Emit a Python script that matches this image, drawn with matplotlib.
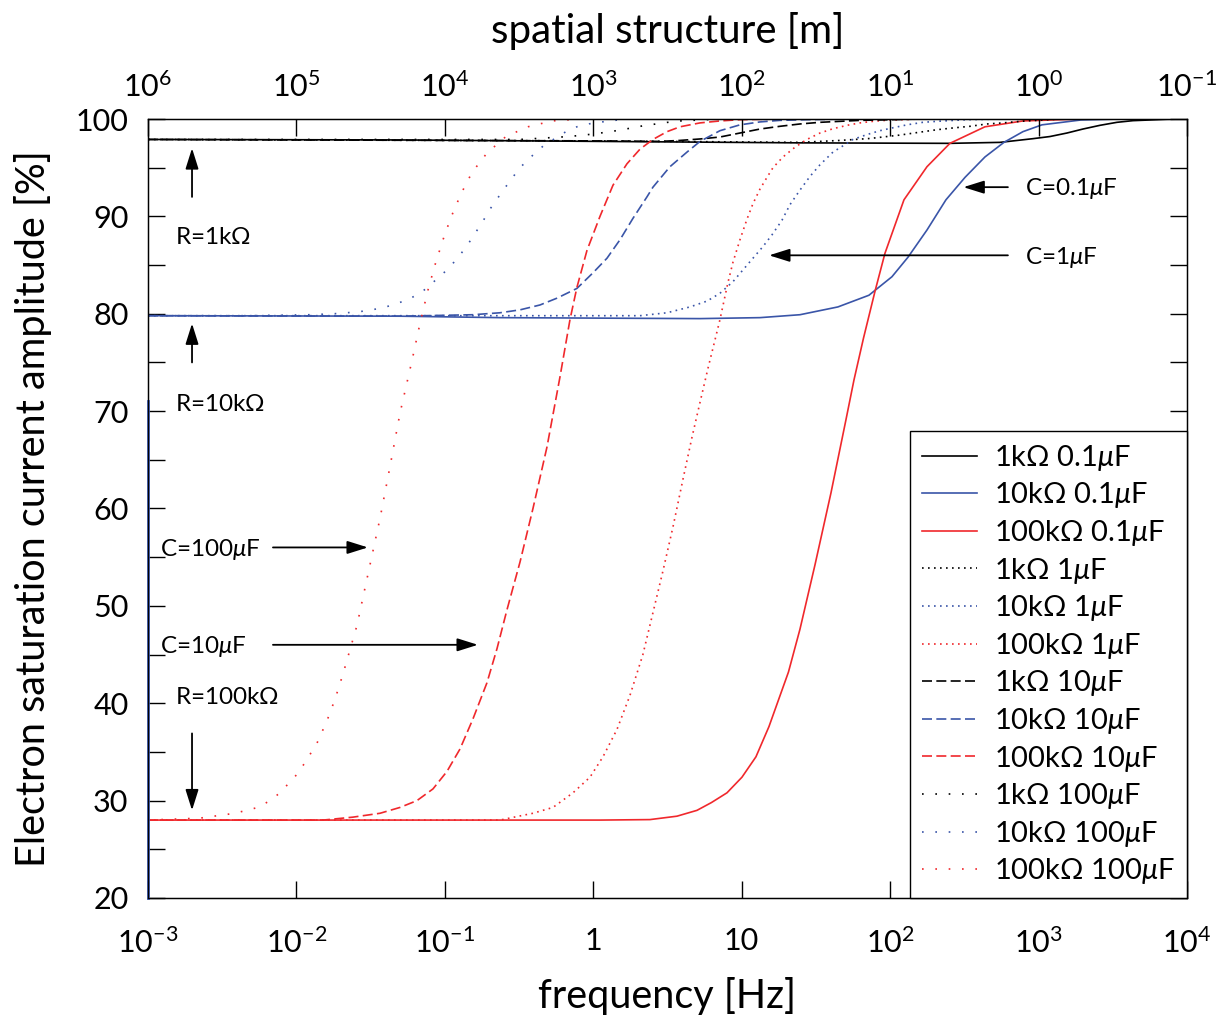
import numpy as np
import matplotlib
matplotlib.use("Agg")
import matplotlib.pyplot as plt
from matplotlib.ticker import FixedLocator, FixedFormatter, NullLocator

plt.rcParams['font.family'] = ['Lato', 'DejaVu Sans']
plt.rcParams['mathtext.fontset'] = 'custom'
plt.rcParams['mathtext.rm'] = 'Lato'
plt.rcParams['mathtext.it'] = 'Lato:italic'
plt.rcParams['mathtext.sf'] = 'Lato'
plt.rcParams['mathtext.fallback'] = 'stixsans'

# ---- data: frequency [Hz] and amplitude [%] ----
# 1 kOhm
f_1k_01 = [0.001, 0.0499, 1.11, 24.7, 253, 549.5, 917, 1194, 1554, 1992, 2593, 3376, 4327, 7330, 10000]
a_1k_01 = [97.9, 97.85, 97.7, 97.55, 97.5, 97.6, 97.98, 98.2, 98.56, 98.97, 99.35, 99.66, 99.83, 99.97, 100.0]

f_1k_1 = [0.001, 1.11, 24.7, 45.9, 73.1, 116.5, 159, 206.8, 265, 345, 449, 575.6, 750, 1394, 10000]
a_1k_1 = [97.9, 97.75, 97.6, 97.8, 98.0, 98.35, 98.65, 98.9, 99.08, 99.25, 99.49, 99.6, 99.76, 100.0, 100.0]

f_1k_10 = [0.001, 1.11, 2.815, 3.84, 5.24, 7.14, 9.74, 13.28, 18.1, 24.7, 33.7, 45.9, 62.7, 85.4, 159, 10000]
a_1k_10 = [97.9, 97.75, 97.7, 97.8, 97.95, 98.15, 98.56, 98.97, 99.25, 99.49, 99.66, 99.76, 99.86, 99.9, 100.0, 100.0]

f_1k_100 = [0.001, 0.321, 0.473, 0.686, 1.011, 1.49, 2.16, 3.14, 3.84, 7.14, 10000]
a_1k_100 = [97.9, 97.9, 98.05, 98.2, 98.46, 98.84, 99.3, 99.65, 99.8, 100.0, 100.0]

# 10 kOhm
f_10k_01 = [0.001, 0.0499, 0.2351, 5.24, 13.28, 24.7, 44.5, 72.0, 102.9, 131.9, 177.2, 237.8,
            319.4, 435.5, 584.8, 785.2, 1054, 1932, 3538, 10000]
a_10k_01 = [79.8, 79.75, 79.6, 79.5, 79.6, 79.9, 80.7, 81.9, 83.8, 85.8, 88.6, 91.7,
            94.0, 96.1, 97.6, 98.7, 99.4, 99.9, 100.0, 100.0]

f_10k_1 = [0.001, 2.064, 3.14, 4.483, 5.84, 7.14, 8.74, 10.2, 11.91, 13.91, 16.0, 18.68, 21.15, 24.7,
           28.84, 33.7, 41.2, 51.2, 56.2, 69.8, 85.4, 104.5, 129.9, 166.4, 206.8, 329.5, 549.5, 10000]
a_10k_1 = [79.8, 79.8, 80.1, 80.7, 81.3, 82.1, 83.3, 84.5, 85.7, 86.9, 88.1, 89.6, 91.2, 92.7,
           94.1, 95.3, 96.6, 97.5, 97.9, 98.4, 98.8, 99.1, 99.4, 99.66, 99.76, 99.93, 100.0, 100.0]

f_10k_10 = [0.001, 0.0499, 0.1548, 0.2351, 0.321, 0.4375, 0.5694, 0.776, 0.9954, 1.237, 1.514, 1.852,
            2.30, 2.525, 3.286, 4.28, 5.24, 7.14, 9.74, 13.28, 18.1, 27.5, 53.6, 10000]
a_10k_10 = [79.8, 79.75, 79.9, 80.1, 80.4, 80.9, 81.6, 82.6, 84.2, 85.7, 87.6, 89.8,
            92.0, 93.0, 95.1, 96.6, 97.7, 98.8, 99.4, 99.7, 99.86, 99.93, 100.0, 100.0]

f_10k_100 = [0.001, 0.00487, 0.01234, 0.0179, 0.0264, 0.0383, 0.0556, 0.0659, 0.0769, 0.0885, 0.1018,
             0.1153, 0.1304, 0.1455, 0.1621, 0.1807, 0.1983, 0.2211, 0.2464, 0.279, 0.311, 0.3575,
             0.405, 0.466, 0.552, 0.655, 0.776, 0.935, 1.145, 1.66, 10000]
a_10k_100 = [79.8, 79.8, 79.9, 80.0, 80.2, 80.6, 81.4, 82.0, 82.7, 83.6, 84.4,
             85.3, 86.3, 87.3, 88.4, 89.5, 90.6, 91.6, 92.7, 93.7, 94.8, 95.7,
             96.5, 97.3, 98.0, 98.7, 99.2, 99.5, 99.7, 100.0, 100.0]

# 100 kOhm
f_100k_01 = [0.001, 1.11, 2.41, 3.664, 5.0, 6.257, 7.96, 10.04, 12.48, 15.27, 20.66, 24.7, 31.17, 39.96,
             50.4, 57.1, 66.2, 79.1, 92.3, 124, 177.2, 253, 435.5, 785.2, 1901, 10000]
a_100k_01 = [28.0, 28.0, 28.05, 28.4, 29.0, 29.8, 30.8, 32.4, 34.5, 37.6, 43.2, 47.6, 54.2, 61.6,
             69.1, 73.2, 77.5, 82.3, 86.2, 91.7, 95.1, 97.5, 99.2, 99.8, 100.0, 100.0]

f_100k_1 = [0.001, 0.2351, 0.3925, 0.5354, 0.7302, 0.950, 1.163, 1.444, 1.767, 2.16, 2.525, 2.95, 3.444,
            4.022, 4.624, 5.24, 5.93, 6.607, 7.14, 8.08, 8.74, 9.74, 10.85, 11.91, 13.28, 14.8, 16.25,
            18.97, 22.85, 27.5, 33.7, 41.2, 51.2, 62.7, 76.6, 95.2, 159, 10000]
a_100k_1 = [28.0, 28.0, 28.7, 29.3, 30.8, 32.4, 34.5, 37.3, 40.8, 45.0, 49.3, 53.6, 58.1,
            63.0, 67.3, 70.9, 74.4, 77.3, 79.4, 83.2, 85.3, 87.6, 89.7, 91.3, 92.8, 94.0, 95.0,
            96.1, 97.1, 97.9, 98.56, 99.0, 99.35, 99.6, 99.76, 99.87, 100.0, 100.0]

f_100k_10 = [0.001, 0.01009, 0.0151, 0.0240, 0.0366, 0.0499, 0.0649, 0.0832, 0.1034, 0.1265, 0.1548,
             0.1922, 0.2246, 0.2623, 0.321, 0.3925, 0.4875, 0.5966, 0.697, 0.776, 0.907, 1.11, 1.358,
             1.687, 2.064, 2.525, 3.14, 3.84, 5.24, 7.14, 9.74, 18.1, 10000]
a_100k_10 = [28.0, 28.0, 28.0, 28.3, 28.7, 29.3, 30.0, 31.2, 33.0, 35.3, 38.4,
             42.1, 45.6, 49.6, 54.5, 60.0, 66.3, 73.5, 79.4, 82.7, 86.5, 90.0, 93.2,
             95.4, 96.9, 97.9, 98.7, 99.2, 99.6, 99.8, 99.93, 100.0, 100.0]

f_100k_100 = [0.001, 0.00224, 0.00385, 0.00551, 0.00664, 0.00775, 0.00878, 0.01009, 0.01142, 0.01376,
              0.01607, 0.01819, 0.0206, 0.02296, 0.0256, 0.02766, 0.0313, 0.0366, 0.0427, 0.0499,
              0.0601, 0.0680, 0.0769, 0.0858, 0.0972, 0.110, 0.1284, 0.1523, 0.1922, 0.258, 0.363,
              0.527, 0.814, 10000]
a_100k_100 = [28.0, 28.2, 28.7, 29.3, 30.0, 30.8, 31.7, 32.7, 33.9, 35.9,
              38.2, 40.4, 43.0, 45.5, 48.0, 50.4, 54.2, 59.0, 64.3, 69.8,
              75.2, 79.0, 82.4, 85.0, 87.6, 89.9, 92.3, 94.5, 96.5, 98.2, 99.2,
              99.8, 100.0, 100.0]

# short blue stroke along the left edge (start of the 10 kOhm 0.1uF trace)
edge_f = [0.001, 0.001]
edge_a = [20.0, 71.0]

xticks = [1e-3, 1e-2, 1e-1, 1, 10, 1e2, 1e3, 1e4]
xtick_labels = [r'$10^{-3}$', r'$10^{-2}$', r'$10^{-1}$', '1', '10', r'$10^{2}$', r'$10^{3}$', r'$10^{4}$']
top_ticks = [1e6, 1e5, 1e4, 1e3, 1e2, 1e1, 1e0, 1e-1]
top_labels = [r'$10^{6}$', r'$10^{5}$', r'$10^{4}$', r'$10^{3}$', r'$10^{2}$', r'$10^{1}$', r'$10^{0}$', r'$10^{\mathsf{-}1}$']

black = 'black'
blue = '#3a55a8'
red = '#f0282c'

fig = plt.figure(figsize=(12.19, 10.18), dpi=100)
ax = fig.add_axes([0.1214, 0.1179, 0.8523, 0.7652])

lw = 1.2
dot1 = (0, (1, 2.6))
dash10 = (0, (6, 2.6))
dot100 = (0, (1, 7.0))

series = [
    (f_1k_01, a_1k_01, black, '-', r'1k$\Omega$ 0.1$\mu$F'),
    (f_10k_01, a_10k_01, blue, '-', r'10k$\Omega$ 0.1$\mu$F'),
    (f_100k_01, a_100k_01, red, '-', r'100k$\Omega$ 0.1$\mu$F'),
    (f_1k_1, a_1k_1, black, dot1, r'1k$\Omega$ 1$\mu$F'),
    (f_10k_1, a_10k_1, blue, dot1, r'10k$\Omega$ 1$\mu$F'),
    (f_100k_1, a_100k_1, red, dot1, r'100k$\Omega$ 1$\mu$F'),
    (f_1k_10, a_1k_10, black, dash10, r'1k$\Omega$ 10$\mu$F'),
    (f_10k_10, a_10k_10, blue, dash10, r'10k$\Omega$ 10$\mu$F'),
    (f_100k_10, a_100k_10, red, dash10, r'100k$\Omega$ 10$\mu$F'),
    (f_1k_100, a_1k_100, black, dot100, r'1k$\Omega$ 100$\mu$F'),
    (f_10k_100, a_10k_100, blue, dot100, r'10k$\Omega$ 100$\mu$F'),
    (f_100k_100, a_100k_100, red, dot100, r'100k$\Omega$ 100$\mu$F'),
]
for fx, ay, c, ls, lab in series:
    ax.plot(fx, ay, color=c, linestyle=ls, linewidth=lw, label=lab)

ax.plot(edge_f, edge_a, color=blue, linewidth=2.0, zorder=3, clip_on=False)

ax.set_xscale('log')
ax.set_xlim(1e-3, 1e4)
ax.set_ylim(20, 100)
ax.xaxis.set_major_locator(FixedLocator(xticks))
ax.xaxis.set_major_formatter(FixedFormatter(xtick_labels))
ax.xaxis.set_minor_locator(NullLocator())
ax.set_yticks(np.arange(20, 101, 10))
ax.set_yticks(np.arange(25, 100, 10), minor=True)
ax.tick_params(axis='both', which='both', direction='in', length=12, width=1.0,
               top=False, right=True, labelsize=22)
ax.tick_params(axis='x', pad=21)
ax.tick_params(axis='y', pad=14)
for s in ax.spines.values():
    s.set_linewidth(1.0)

ax.set_xlabel('frequency [Hz]', fontsize=28.5, labelpad=14)
ax.set_ylabel('Electron saturation current amplitude [%]', fontsize=28.5, labelpad=17)

# top axis: spatial structure
ax2 = ax.twiny()
ax2.set_xscale('log')
ax2.set_xlim(1e6, 1e-1)
ax2.xaxis.set_major_locator(FixedLocator(top_ticks))
ax2.xaxis.set_major_formatter(FixedFormatter(top_labels))
ax2.xaxis.set_minor_locator(NullLocator())
ax2.tick_params(axis='x', which='both', direction='in', length=12, width=1.0, labelsize=22, pad=12)
ax2.set_xlabel('spatial structure [m]', fontsize=29, labelpad=21)

# annotations
akw = dict(arrowstyle='-|>,head_length=0.7,head_width=0.22', color='black', lw=1.3,
           shrinkA=0, shrinkB=0, mutation_scale=18)
tfs = 17.5
ax.text(0.00152, 87.8, r'R=1k$\Omega$', fontsize=tfs, va='center', ha='left')
ax.annotate('', xy=(0.00198, 97.0), xytext=(0.00198, 92.0), arrowprops=akw)
ax.text(0.00152, 70.7, r'R=10k$\Omega$', fontsize=tfs, va='center', ha='left')
ax.annotate('', xy=(0.00198, 79.0), xytext=(0.00198, 75.0), arrowprops=akw)
ax.text(0.00152, 40.6, r'R=100k$\Omega$', fontsize=tfs, va='center', ha='left')
ax.annotate('', xy=(0.00198, 29.0), xytext=(0.00198, 36.9), arrowprops=akw)
ax.text(0.0012, 55.8, r'C=100$\mu$F', fontsize=tfs, va='center', ha='left')
ax.annotate('', xy=(0.0303, 56.0), xytext=(0.00695, 56.0), arrowprops=akw)
ax.text(0.0012, 45.8, r'C=10$\mu$F', fontsize=tfs, va='center', ha='left')
ax.annotate('', xy=(0.167, 46.0), xytext=(0.00695, 46.0), arrowprops=akw)
ax.text(811, 92.9, r'C=0.1$\mu$F', fontsize=tfs, va='center', ha='left')
ax.annotate('', xy=(312, 93.0), xytext=(622, 93.0), arrowprops=akw)
ax.text(811, 85.8, r'C=1$\mu$F', fontsize=tfs, va='center', ha='left')
ax.annotate('', xy=(15.3, 86.0), xytext=(622, 86.0), arrowprops=akw)

leg = ax.legend(loc='lower right', fontsize=21, frameon=True, fancybox=False,
                edgecolor='black', framealpha=1.0, borderaxespad=0.0,
                handlelength=1.9, labelspacing=0.26, handletextpad=0.6,
                borderpad=0.4)
leg.get_frame().set_linewidth(1.0)

fig.savefig('out.png', dpi=100)
